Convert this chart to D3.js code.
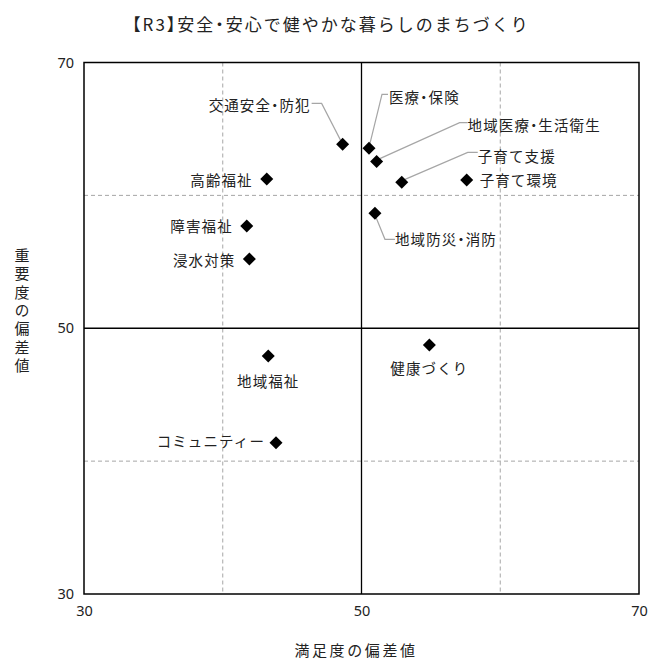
<!DOCTYPE html>
<html><head><meta charset="utf-8">
<script src="https://cdn.jsdelivr.net/npm/d3@7"></script>
<style>body{margin:0;background:#fff}svg{display:block}text{font-family:"Noto Sans CJK JP","Noto Sans",sans-serif;fill:#222}.halt{font-feature-settings:"halt" 1}</style>
</head><body>
<script>
const items = ["交通安全・防犯","医療・保険","地域医療・生活衛生","子育て支援","子育て環境","高齢福祉","障害福祉","浸水対策","地域防災・消防","地域福祉","健康づくり","コミュニティー"];
const satisfaction = [48.64,50.54,51.09,52.90,57.58,43.17,41.73,41.92,50.97,43.28,54.89,43.84];
const importance = [63.84,63.54,62.54,60.98,61.16,61.23,57.70,55.21,58.65,47.92,48.74,41.39];
const xTicks = [30,50,70];
const yTicks = [30,50,70];
const gridVals = [40,60];
const title = "【R3】安全・安心で健やかな暮らしのまちづくり";
const xTitle = "満足度の偏差値";
const yTitle = "重要度の偏差値";

// label layout: anchor, offsets from marker, leader points relative to marker
const labelLayout = [
  {a:"end", dx:-32, dy:-40, lead:[[-31,-41],[-21,-41],[-2,-4]]},
  {a:"start", dx:20, dy:-52, lead:[[19,-54],[13,-54],[1,-5]]},
  {a:"start", dx:91, dy:-37, lead:[[91,-39],[83,-39],[1,-2]]},
  {a:"start", dx:76, dy:-27, lead:[[76,-30],[66,-30],[1,-2]]},
  {a:"start", dx:13, dy:0, lead:null},
  {a:"end", dx:-14, dy:0, lead:null},
  {a:"end", dx:-14, dy:0, lead:null},
  {a:"end", dx:-14, dy:0, lead:null},
  {a:"start", dx:20, dy:25, lead:[[20,26],[10,26],[1,4]]},
  {a:"middle", dx:0, dy:25, lead:null},
  {a:"middle", dx:0, dy:23, lead:null},
  {a:"end", dx:-11, dy:-2, lead:null}
];

const W=648,H=659;
const m={l:84,r:639,t:62.5,b:594};
const x=d3.scaleLinear().domain([30,70]).range([m.l,m.r]);
const y=d3.scaleLinear().domain([30,70]).range([m.b,m.t]);
const svg=d3.select("body").append("svg").attr("width",W).attr("height",H);

// grid
svg.selectAll(".gx").data(gridVals).enter().append("line")
 .attr("x1",d=>x(d)).attr("x2",d=>x(d)).attr("y1",m.t).attr("y2",m.b)
 .attr("stroke","#a6a6a6").attr("stroke-dasharray","4,3").attr("stroke-width",1);
svg.selectAll(".gy").data(gridVals).enter().append("line")
 .attr("y1",d=>y(d)).attr("y2",d=>y(d)).attr("x1",m.l).attr("x2",m.r)
 .attr("stroke","#a6a6a6").attr("stroke-dasharray","4,3").attr("stroke-width",1);
// center lines
svg.append("line").attr("x1",x(50)).attr("x2",x(50)).attr("y1",m.t).attr("y2",m.b).attr("stroke","#000").attr("stroke-width",1.3);
svg.append("line").attr("y1",y(50)).attr("y2",y(50)).attr("x1",m.l).attr("x2",m.r).attr("stroke","#000").attr("stroke-width",1.3);
// frame
svg.append("rect").attr("x",m.l).attr("y",m.t).attr("width",m.r-m.l).attr("height",m.b-m.t)
 .attr("fill","none").attr("stroke","#000").attr("stroke-width",1.5);

// axes tick labels
const xa=svg.append("g").attr("transform",`translate(0,${m.b})`).call(d3.axisBottom(x).tickValues(xTicks).tickSize(0).tickPadding(9));
xa.select(".domain").remove();
xa.selectAll("text").attr("font-size",14.5).style("font-family","'Noto Sans','DejaVu Sans',sans-serif").attr("fill","#222").attr("dy","0.9em");
const ya=svg.append("g").attr("transform",`translate(${m.l},0)`).call(d3.axisLeft(y).tickValues(yTicks).tickSize(0).tickPadding(10));
ya.select(".domain").remove();
ya.selectAll("text").attr("font-size",14.5).style("font-family","'Noto Sans','DejaVu Sans',sans-serif").attr("fill","#222");

// titles
svg.append("text").attr("class","halt").attr("x",331).attr("y",31).attr("text-anchor","middle")
 .attr("font-size",17).attr("letter-spacing",2).text(title);
svg.append("text").attr("x",356).attr("y",656).attr("text-anchor","middle").attr("font-size",15).attr("letter-spacing",2.6).text(xTitle);
svg.append("text").attr("transform","translate(22,312)").attr("text-anchor","middle").attr("dominant-baseline","central")
 .style("writing-mode","vertical-rl").attr("font-size",15).attr("letter-spacing",3.4).text(yTitle);

// leaders
items.forEach((n,i)=>{
  const L=labelLayout[i]; if(!L.lead) return;
  const cx=x(satisfaction[i]), cy=y(importance[i]);
  svg.append("polyline").attr("points",L.lead.map(p=>[cx+p[0],cy+p[1]].join(",")).join(" "))
   .attr("fill","none").attr("stroke","#a6a6a6").attr("stroke-width",1.2);
});
// markers
svg.selectAll(".pt").data(items).enter().append("path")
 .attr("d","M0,-6.5L6.5,0L0,6.5L-6.5,0Z").attr("fill","#000")
 .attr("transform",(d,i)=>`translate(${x(satisfaction[i])},${y(importance[i])})`);
// labels
svg.selectAll(".lb").data(items).enter().append("text").attr("class","halt")
 .attr("x",(d,i)=>x(satisfaction[i])+labelLayout[i].dx)
 .attr("y",(d,i)=>y(importance[i])+labelLayout[i].dy)
 .attr("text-anchor",(d,i)=>labelLayout[i].a).attr("dominant-baseline","central")
 .attr("font-size",14.5).attr("letter-spacing",1.1).text(d=>d);
</script>
</body></html>
